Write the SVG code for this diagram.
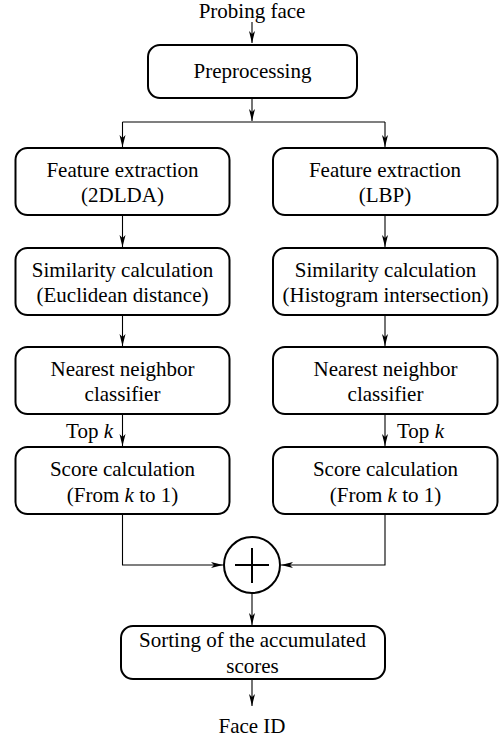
<svg xmlns="http://www.w3.org/2000/svg" width="499" height="737" viewBox="0 0 499 737" font-family="Liberation Serif">
<style>
.box{fill:#fff;stroke:#000;stroke-width:2}
.t{font-family:'Liberation Serif',serif;font-size:21px;fill:#000}
.c{fill:none;stroke:#000;stroke-width:1.1}
</style>
<defs>
<marker id="ah" markerUnits="userSpaceOnUse" markerWidth="13" markerHeight="7" refX="12" refY="3.5" orient="auto">
<path d="M0,0.5 L12,3.5 L0,6.5 L3,3.5 z" fill="#000"/>
</marker>
</defs>
<g id="connectors">
<path class="c" d="M252,22 V43" marker-end="url(#ah)"/>
<path class="c" d="M252,98 V121" marker-end="url(#ah)"/>
<path class="c" d="M122.5,122 H385"/>
<path class="c" d="M122.5,122 V147" marker-end="url(#ah)"/>
<path class="c" d="M385,122 V147" marker-end="url(#ah)"/>
<path class="c" d="M122.5,215 V247" marker-end="url(#ah)"/>
<path class="c" d="M385,215 V247" marker-end="url(#ah)"/>
<path class="c" d="M122.5,315 V346" marker-end="url(#ah)"/>
<path class="c" d="M385,315 V346" marker-end="url(#ah)"/>
<path class="c" d="M122.5,414 V446" marker-end="url(#ah)"/>
<path class="c" d="M385,414 V446" marker-end="url(#ah)"/>
<path class="c" d="M122.5,514 V565 H223" marker-end="url(#ah)"/>
<path class="c" d="M385,514 V565 H281" marker-end="url(#ah)"/>
<path class="c" d="M252,593 V625" marker-end="url(#ah)"/>
<path class="c" d="M252,679 V706" marker-end="url(#ah)"/>
<text class="t" x="113" y="438" font-family="Liberation Serif" text-anchor="end">Top <tspan font-style="italic">k</tspan></text>
<text class="t" x="397" y="438" font-family="Liberation Serif">Top <tspan font-style="italic">k</tspan></text>
</g>
<g id="probing-face"><text class="t" x="252" y="18" font-family="Liberation Serif" text-anchor="middle">Probing face</text></g>
<g id="preprocessing">
<rect class="box" x="148" y="45" width="209" height="53" rx="12"/>
<text class="t" x="252.5" y="78" font-family="Liberation Serif" text-anchor="middle">Preprocessing</text>
</g>
<g id="feature-2dlda">
<rect class="box" x="15.5" y="148" width="214" height="67" rx="12"/>
<text class="t" x="122.5" y="177" font-family="Liberation Serif" text-anchor="middle">Feature extraction</text>
<text class="t" x="122.5" y="202" font-family="Liberation Serif" text-anchor="middle">(2DLDA)</text>
</g>
<g id="feature-lbp">
<rect class="box" x="273" y="148" width="224.5" height="67" rx="12"/>
<text class="t" x="385" y="177" font-family="Liberation Serif" text-anchor="middle">Feature extraction</text>
<text class="t" x="385" y="202" font-family="Liberation Serif" text-anchor="middle">(LBP)</text>
</g>
<g id="similarity-euclid">
<rect class="box" x="15.5" y="248" width="214" height="67" rx="12"/>
<text class="t" x="122.5" y="277" font-family="Liberation Serif" text-anchor="middle">Similarity calculation</text>
<text class="t" x="122.5" y="302" font-family="Liberation Serif" text-anchor="middle">(Euclidean distance)</text>
</g>
<g id="similarity-hist">
<rect class="box" x="273" y="248" width="224.5" height="67" rx="12"/>
<text class="t" x="385.5" y="277" font-family="Liberation Serif" text-anchor="middle">Similarity calculation</text>
<text class="t" x="385.5" y="302" font-family="Liberation Serif" text-anchor="middle">(Histogram intersection)</text>
</g>
<g id="nn-left">
<rect class="box" x="15.5" y="347" width="214" height="67" rx="12"/>
<text class="t" x="122.5" y="376" font-family="Liberation Serif" text-anchor="middle">Nearest neighbor</text>
<text class="t" x="122.5" y="401" font-family="Liberation Serif" text-anchor="middle">classifier</text>
</g>
<g id="nn-right">
<rect class="box" x="273" y="347" width="224.5" height="67" rx="12"/>
<text class="t" x="385.5" y="376" font-family="Liberation Serif" text-anchor="middle">Nearest neighbor</text>
<text class="t" x="385.5" y="401" font-family="Liberation Serif" text-anchor="middle">classifier</text>
</g>
<g id="score-left">
<rect class="box" x="15.5" y="447" width="214" height="67" rx="12"/>
<text class="t" x="122.5" y="476" font-family="Liberation Serif" text-anchor="middle">Score calculation</text>
<text class="t" x="122.5" y="502" font-family="Liberation Serif" text-anchor="middle">(From <tspan font-style="italic">k</tspan> to 1)</text>
</g>
<g id="score-right">
<rect class="box" x="273" y="447" width="224.5" height="67" rx="12"/>
<text class="t" x="385.5" y="476" font-family="Liberation Serif" text-anchor="middle">Score calculation</text>
<text class="t" x="385.5" y="502" font-family="Liberation Serif" text-anchor="middle">(From <tspan font-style="italic">k</tspan> to 1)</text>
</g>
<g id="sum">
<circle cx="252" cy="565" r="28" fill="#fff" stroke="#000" stroke-width="2"/>
<path d="M235,565 H269 M252,548 V583" stroke="#000" stroke-width="2"/>
</g>
<g id="sorting">
<rect class="box" x="121" y="626" width="264" height="53" rx="12"/>
<text class="t" x="252.5" y="647" font-family="Liberation Serif" text-anchor="middle">Sorting of the accumulated</text>
<text class="t" x="252.5" y="673" font-family="Liberation Serif" text-anchor="middle">scores</text>
</g>
<g id="face-id"><text class="t" x="252" y="733" font-family="Liberation Serif" text-anchor="middle">Face ID</text></g>
</svg>
